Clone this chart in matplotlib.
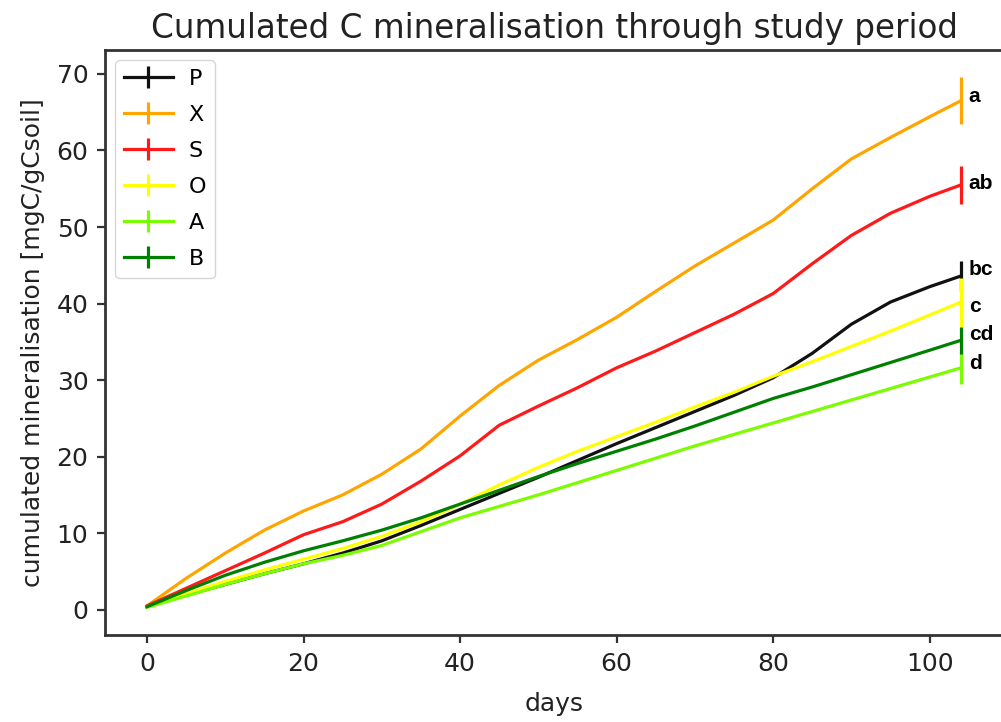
import matplotlib
matplotlib.use("Agg")
import matplotlib.pyplot as plt

days = [0, 5, 10, 15, 20, 25, 30, 35, 40, 45, 50, 55, 60, 65, 70, 75, 80, 85, 90, 95, 100, 104]

P = [0.4, 1.9, 3.3, 4.7, 6.0, 7.4, 9.0, 11.0, 13.1, 15.2, 17.3, 19.5, 21.7, 23.8, 25.9, 28.0, 30.3, 33.5, 37.3, 40.2, 42.2, 43.6]
X = [0.5, 4.1, 7.4, 10.4, 12.9, 15.0, 17.7, 21.0, 25.3, 29.3, 32.6, 35.3, 38.2, 41.6, 44.9, 47.9, 50.9, 55.0, 58.9, 61.7, 64.4, 66.5]
S = [0.5, 2.8, 5.1, 7.4, 9.8, 11.5, 13.8, 16.8, 20.1, 24.1, 26.6, 29.0, 31.6, 33.8, 36.2, 38.6, 41.3, 45.2, 48.9, 51.8, 54.0, 55.5]
O = [0.4, 2.1, 3.7, 5.2, 6.6, 8.0, 9.6, 11.5, 13.8, 16.3, 18.6, 20.7, 22.6, 24.5, 26.5, 28.4, 30.5, 32.4, 34.4, 36.4, 38.5, 40.2]
A = [0.3, 1.8, 3.3, 4.7, 6.0, 7.1, 8.4, 10.2, 12.0, 13.5, 15.0, 16.6, 18.2, 19.8, 21.4, 22.9, 24.4, 25.9, 27.4, 28.9, 30.4, 31.6]
B = [0.4, 2.5, 4.5, 6.2, 7.7, 9.0, 10.4, 12.0, 13.8, 15.6, 17.4, 19.1, 20.7, 22.3, 24.0, 25.8, 27.6, 29.1, 30.7, 32.3, 33.9, 35.2]

series_names = ["P", "X", "S", "O", "A", "B"]
series_values = [P, X, S, O, A, B]
final_err = [2.0, 3.1, 2.45, 3.2, 2.1, 1.8]
colors = ["#111111", "#ffa500", "#ff1a1a", "#ffff00", "#7cfc00", "#008000"]
letters = ["bc", "a", "ab", "c", "d", "cd"]
letter_y = [44.4, 67.0, 55.7, 39.6, 32.2, 35.9]

fig = plt.figure(figsize=(10.01, 7.22), dpi=100)
ax = fig.add_axes([0.105, 0.1205, 0.898, 0.810])

n = len(days)
for name, vals, err, c in zip(series_names, series_values, final_err, colors):
    yerr = [0.0] * (n - 1) + [err]
    ax.errorbar(days, vals, yerr=yerr, errorevery=(n - 1, n), color=c,
                lw=2.3, elinewidth=2.3, label=name)

for lab, ly in zip(letters, letter_y):
    ax.text(105.0, ly, lab, fontsize=15, fontweight="bold",
            family="Liberation Sans", va="center", ha="left", color="black")

ax.set_xlim(-5.35, 109.5)
ax.set_ylim(-3.3, 73.1)
ax.set_xticks([0, 20, 40, 60, 80, 100])
ax.set_yticks([0, 10, 20, 30, 40, 50, 60, 70])
ax.tick_params(labelsize=18, length=6, width=1.6, color="#333333", pad=6,
               labelcolor="#222222")
for s in ax.spines.values():
    s.set_linewidth(2)
    s.set_color("#333333")

ax.set_title("Cumulated C mineralisation through study period", fontsize=23.5,
             pad=9, color="#222222")
ax.set_xlabel("days", fontsize=18, labelpad=12, color="#222222")
ax.set_ylabel("cumulated mineralisation [mgC/gCsoil]", fontsize=18, labelpad=8,
              color="#222222")

leg = ax.legend(loc="upper left", fontsize=16, handlelength=2.2, handletextpad=0.7,
                labelspacing=0.72, borderaxespad=0.45, borderpad=0.4,
                framealpha=0.8, edgecolor="#cccccc")

fig.savefig("out.png", dpi=100)
